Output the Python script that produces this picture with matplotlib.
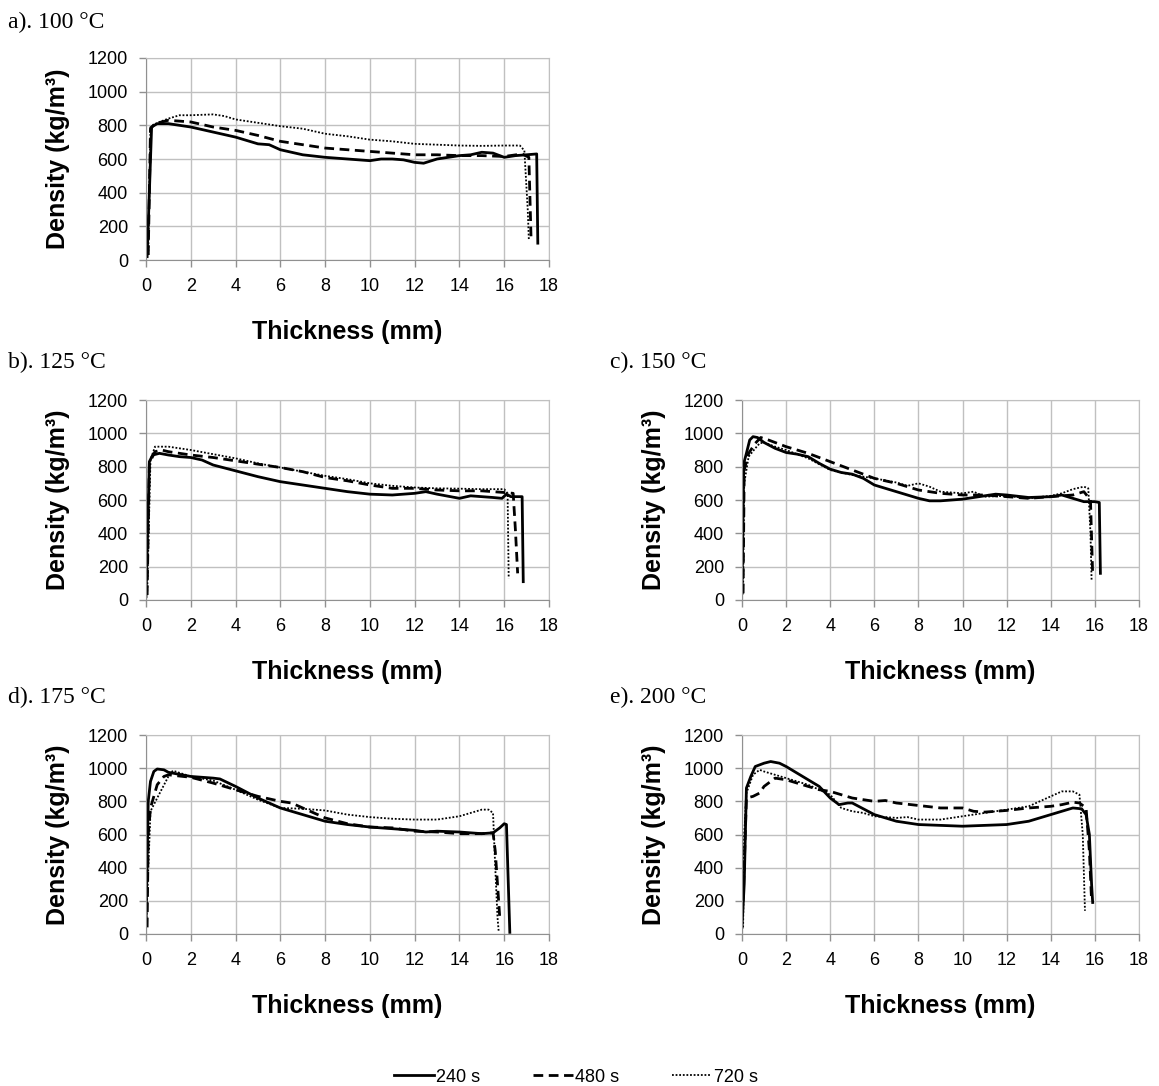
import matplotlib
matplotlib.use('Agg')
import matplotlib.pyplot as plt
from matplotlib.lines import Line2D

plt.rcParams['font.family'] = ['Liberation Sans', 'DejaVu Sans']

# ---- data: thickness (mm) / density (kg/m3) ----
# a) 100 C
a240_x = [0.05, 0.15, 0.25, 0.5, 1.0, 1.5, 2, 3, 4, 5, 5.5, 6, 7, 8, 9, 10, 10.5, 11, 11.5, 12, 12.4, 13, 14, 14.5, 15, 15.5, 16, 16.5, 17, 17.45, 17.5]
a240_y = [20, 400, 790, 810, 810, 800, 790, 760, 730, 690, 685, 655, 625, 610, 600, 590, 600, 600, 595, 580, 575, 600, 620, 625, 640, 635, 610, 620, 625, 630, 100]
a480_x = [0.1, 0.2, 0.4, 1, 2, 3, 4, 5, 6, 7, 8, 9, 10, 11, 12, 13, 14, 15, 16, 16.8, 17.1, 17.2]
a480_y = [30, 780, 810, 830, 820, 790, 770, 740, 705, 685, 665, 655, 645, 635, 625, 625, 620, 620, 615, 630, 610, 120]
a720_x = [0.1, 0.2, 0.5, 1, 1.5, 2, 3, 3.5, 4, 5, 6, 7, 8, 9, 10, 11, 12, 13, 14, 15, 16, 16.7, 16.9, 17.05, 17.1]
a720_y = [30, 790, 815, 840, 860, 860, 865, 855, 835, 815, 795, 780, 750, 735, 715, 705, 690, 685, 680, 678, 680, 680, 650, 300, 120]

# b) 125 C
b240_x = [0, 0.15, 0.3, 0.6, 1, 1.5, 2, 2.5, 3, 4, 5, 6, 7, 8, 9, 10, 11, 12, 12.5, 13, 14, 14.5, 15, 15.5, 15.9, 16.1, 16.3, 16.8, 16.85]
b240_y = [20, 830, 870, 880, 870, 860, 855, 840, 810, 775, 740, 710, 690, 670, 650, 635, 630, 640, 650, 635, 610, 625, 620, 615, 610, 635, 620, 620, 110]
b480_x = [0.05, 0.15, 0.4, 0.7, 1, 2, 3, 4, 5, 6, 7, 8, 9, 10, 11, 12, 13, 14, 15, 16, 16.4, 16.5, 16.6]
b480_y = [30, 820, 890, 900, 890, 870, 855, 835, 815, 795, 770, 735, 715, 690, 670, 670, 660, 655, 655, 645, 640, 420, 160]
b720_x = [0.05, 0.2, 0.4, 1, 2, 3, 4, 5, 6, 7, 8, 9, 10, 11, 12, 13, 14, 15, 16, 16.15, 16.2]
b720_y = [30, 840, 920, 920, 900, 875, 850, 820, 795, 770, 745, 725, 700, 685, 675, 670, 668, 665, 665, 640, 130]

# c) 150 C
c240_x = [0, 0.08, 0.2, 0.35, 0.5, 0.7, 1, 1.5, 2, 2.5, 3, 3.5, 4, 4.5, 5, 5.5, 6, 7, 8, 8.5, 9, 10, 11, 11.5, 12, 13, 14, 14.5, 15, 15.5, 16, 16.2, 16.25]
c240_y = [40, 820, 880, 960, 980, 975, 945, 910, 885, 875, 860, 820, 785, 765, 755, 730, 690, 650, 610, 595, 595, 605, 625, 635, 630, 615, 620, 630, 610, 590, 590, 585, 160]
c480_x = [0.05, 0.1, 0.3, 0.6, 0.85, 1.2, 2, 3, 4, 5, 6, 7, 8, 9, 10, 11, 12, 13, 14, 15, 15.5, 15.8, 15.9]
c480_y = [40, 780, 880, 940, 975, 960, 920, 880, 830, 780, 730, 700, 660, 640, 630, 630, 620, 610, 620, 630, 650, 600, 150]
c720_x = [0.05, 0.1, 0.3, 0.6, 0.8, 1, 1.5, 2, 3, 4, 5, 6, 7, 7.5, 8, 8.5, 9, 10, 10.5, 11, 12, 13, 14, 14.5, 15, 15.5, 15.7, 15.8, 15.85]
c720_y = [40, 700, 860, 910, 940, 945, 920, 900, 850, 780, 750, 730, 705, 685, 700, 680, 650, 640, 650, 620, 625, 610, 625, 640, 665, 680, 670, 400, 120]

# d) 175 C
d240_x = [0, 0.1, 0.2, 0.35, 0.5, 0.8, 1, 2, 3, 3.3, 4, 5, 6, 7, 8, 9, 10, 11, 12, 12.5, 13, 14, 15, 15.5, 15.8, 16, 16.1, 16.25]
d240_y = [60, 800, 920, 980, 995, 990, 975, 950, 940, 935, 890, 820, 760, 720, 680, 660, 645, 635, 625, 615, 620, 615, 605, 610, 640, 665, 660, 10]
d480_x = [0.05, 0.1, 0.2, 0.5, 0.8, 1, 2, 3, 4, 5, 6, 6.5, 7, 8, 9, 10, 11, 12, 13, 14, 15, 15.5, 15.6, 15.8]
d480_y = [40, 600, 760, 900, 950, 960, 945, 910, 870, 830, 800, 790, 760, 700, 665, 645, 640, 620, 615, 605, 605, 610, 500, 100]
d720_x = [0, 0.2, 0.5, 1, 1.2, 2, 3, 4, 5, 6, 7, 8, 9, 10, 11, 12, 13, 14, 14.5, 15, 15.3, 15.5, 15.6, 15.7, 15.75]
d720_y = [30, 740, 820, 950, 985, 950, 925, 870, 810, 760, 755, 745, 720, 705, 695, 690, 690, 710, 730, 750, 750, 730, 400, 100, 20]

# e) 200 C
e240_x = [0, 0.1, 0.2, 0.4, 0.6, 1, 1.3, 1.7, 2, 3, 3.5, 4, 4.4, 4.8, 5, 5.5, 6, 7, 8, 9, 10, 11, 12, 13, 14, 14.5, 15, 15.4, 15.6, 15.75, 15.85, 15.9]
e240_y = [40, 300, 880, 950, 1010, 1030, 1040, 1030, 1010, 930, 890, 820, 780, 790, 790, 755, 720, 680, 660, 655, 650, 655, 660, 680, 720, 740, 760, 755, 720, 600, 300, 190]
e480_x = [0.05, 0.2, 0.5, 0.8, 1, 1.5, 2, 3, 3.5, 4, 5, 6, 6.5, 7, 8, 9, 10, 10.5, 11, 12, 13, 14, 14.5, 15, 15.3, 15.6, 15.75, 15.85]
e480_y = [200, 820, 830, 850, 890, 940, 930, 890, 870, 860, 820, 800, 805, 790, 775, 760, 760, 740, 735, 745, 760, 770, 780, 795, 790, 760, 500, 200]
e720_x = [0.05, 0.1, 0.2, 0.5, 0.8, 1, 2, 3, 4, 4.5, 5, 5.5, 6, 7, 7.5, 8, 9, 10, 11, 12, 13, 13.5, 14, 14.5, 15, 15.3, 15.45, 15.55]
e720_y = [40, 600, 850, 960, 990, 980, 940, 900, 840, 760, 740, 730, 710, 700, 705, 690, 690, 710, 730, 750, 770, 800, 830, 860, 860, 840, 600, 140]

titles = ['a). 100 \u00b0C', 'b). 125 \u00b0C', 'c). 150 \u00b0C', 'd). 175 \u00b0C', 'e). 200 \u00b0C']
series_names = ['240 s', '480 s', '720 s']
panels = [
    [(a240_x, a240_y), (a480_x, a480_y), (a720_x, a720_y)],
    [(b240_x, b240_y), (b480_x, b480_y), (b720_x, b720_y)],
    [(c240_x, c240_y), (c480_x, c480_y), (c720_x, c720_y)],
    [(d240_x, d240_y), (d480_x, d480_y), (d720_x, d720_y)],
    [(e240_x, e240_y), (e480_x, e480_y), (e720_x, e720_y)],
]

W, H = 1159, 1086
fig = plt.figure(figsize=(W / 100, H / 100), dpi=100)

# pixel boxes (left, right, top, bottom) of each plot area
boxes = [(146, 549, 58, 260), (146, 549, 400, 600), (742, 1139, 400, 600),
         (146, 549, 735, 934), (742, 1139, 735, 934)]
title_pos = [(8, 22), (8, 362), (610, 362), (8, 697), (610, 697)]

styles = [dict(color='black', lw=2.0, ls='-'),
          dict(color='black', lw=2.0, ls=(0, (3.5, 2))),
          dict(color='black', lw=1.3, ls=(0, (1, 1)))]

for i, (l, r, t, b) in enumerate(boxes):
    ax = fig.add_axes([l / W, 1 - b / H, (r - l) / W, (b - t) / H])
    for (x, y), st in zip(panels[i], styles):
        ax.plot(x, y, **st)
    ax.set_xlim(0, 18)
    ax.set_ylim(0, 1200)
    ax.set_xticks(range(0, 19, 2))
    ax.set_yticks(range(0, 1201, 200))
    ax.grid(True, color='#c0c0c0', lw=1)
    ax.set_axisbelow(True)
    for s in ax.spines.values():
        s.set_color('#c0c0c0')
    ax.spines['left'].set_color('#909090')
    ax.spines['bottom'].set_color('#909090')
    ax.tick_params(labelcolor='black', length=5, width=1, pad=8,
                   labelsize=13, color='#909090')
    ax.set_xlabel('Thickness (mm)', fontsize=18, fontweight='bold', labelpad=18)
    ax.set_ylabel('Density (kg/m\u00b3)', fontsize=18, fontweight='bold', labelpad=13)
    fig.text(title_pos[i][0] / W, 1 - title_pos[i][1] / H, titles[i],
             family='Liberation Serif', fontsize=17, va='center', ha='left')

handles = [Line2D([], [], **st) for st in styles]
fig.legend(handles, series_names, loc='center', bbox_to_anchor=(0.497, 1 - 1077 / H),
           ncol=3, frameon=False, fontsize=13, handlelength=2.2,
           columnspacing=2.9, handletextpad=0.15)

fig.savefig('out.png', dpi=100)
